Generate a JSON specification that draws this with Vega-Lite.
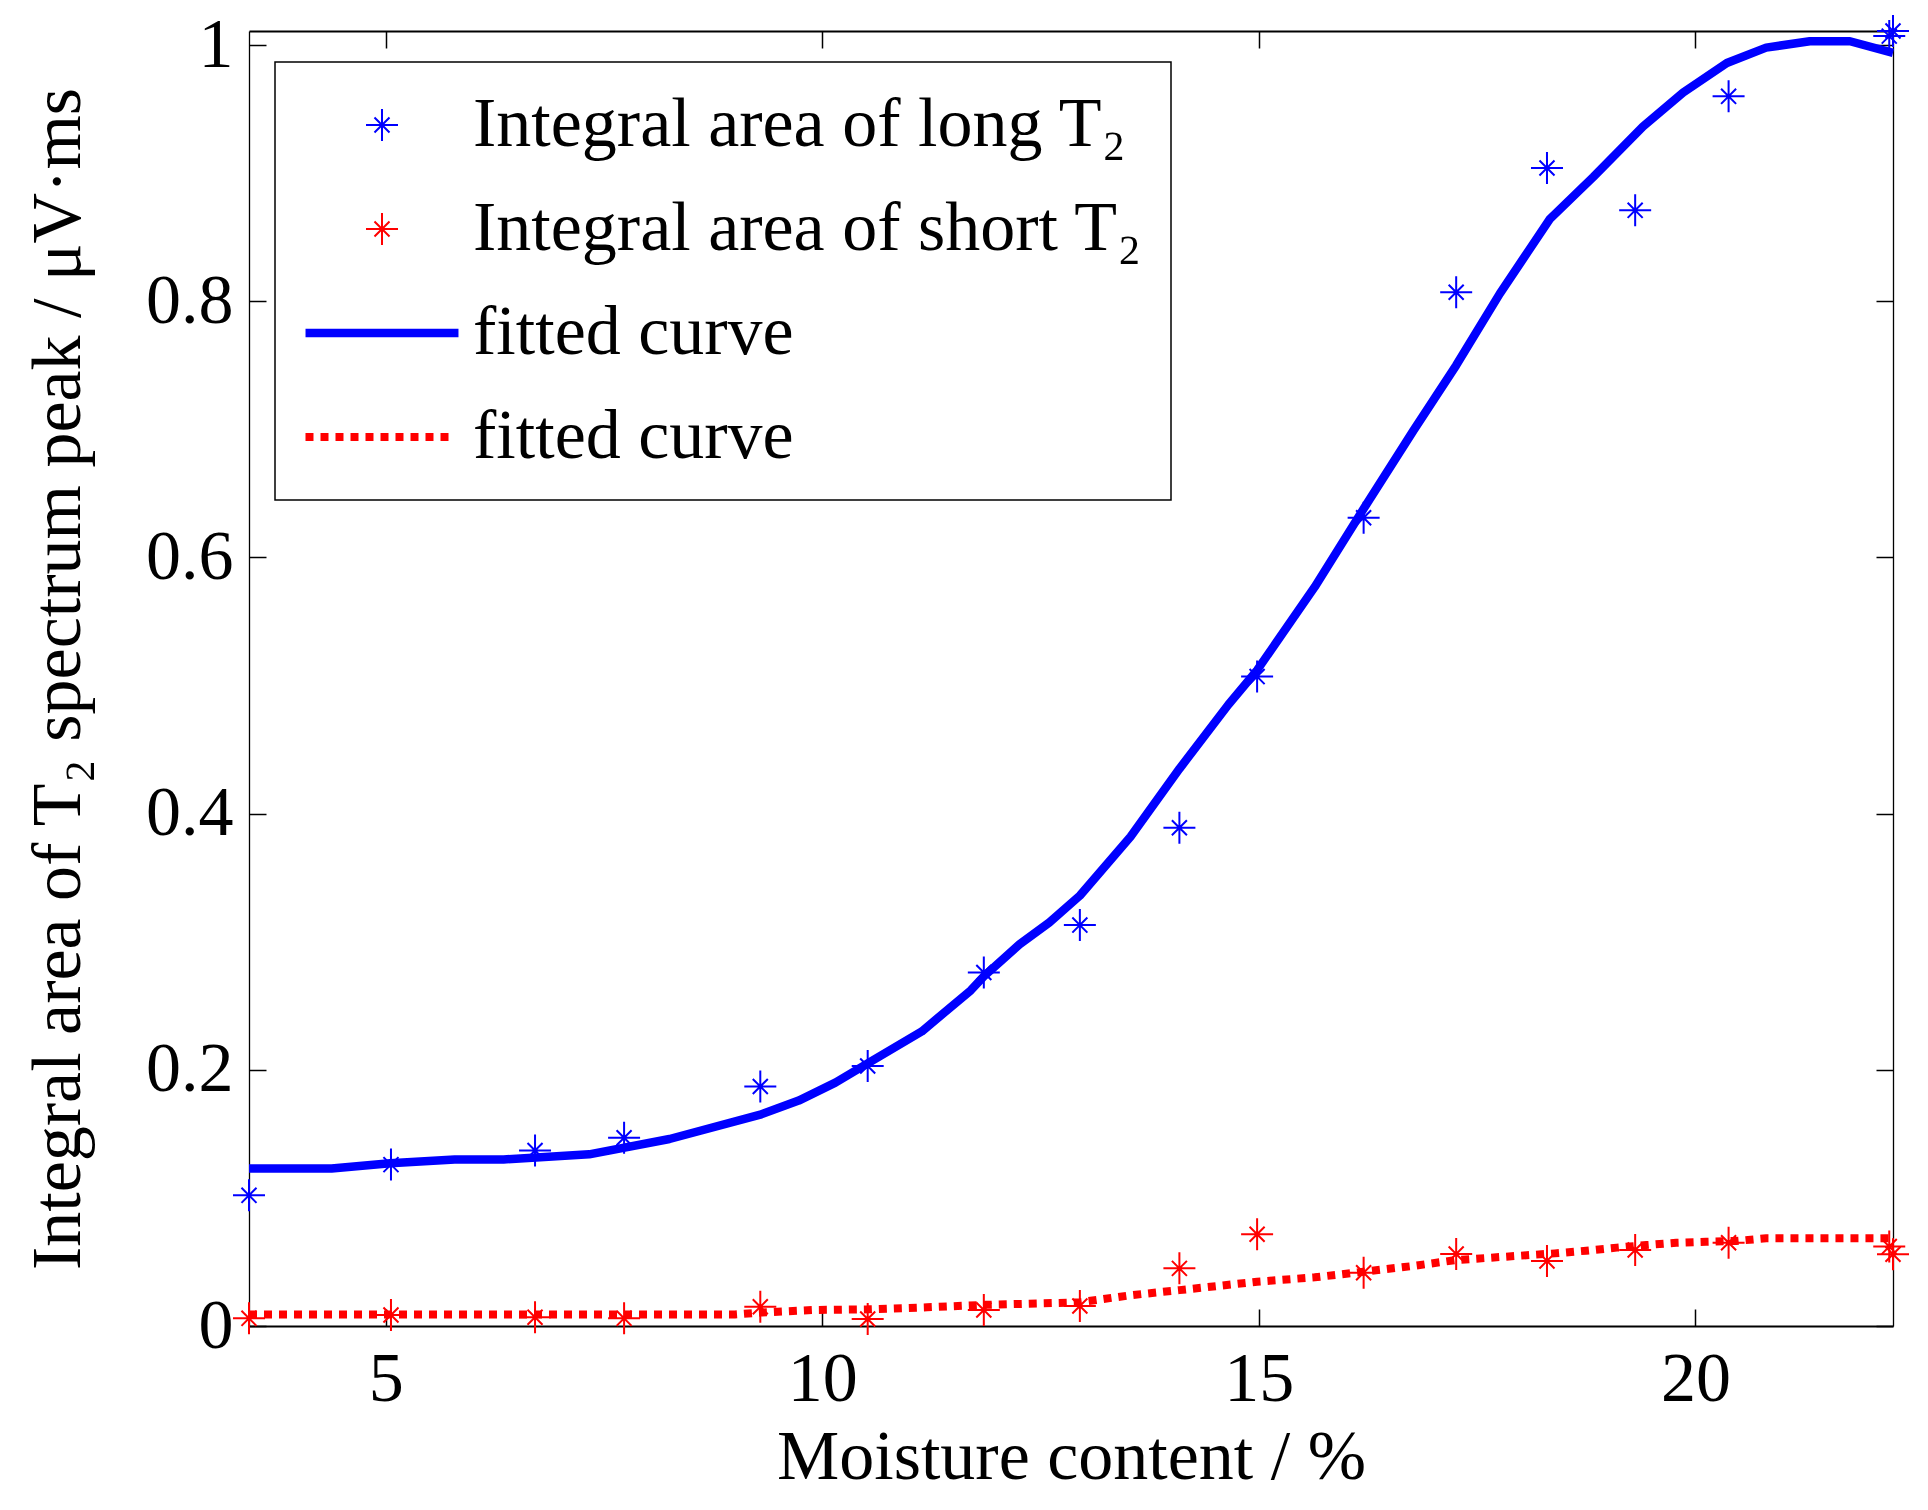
{
  "$schema": "https://vega.github.io/schema/vega-lite/v6.json",
  "width": 1644,
  "height": 1295,
  "autosize": {"type": "none"},
  "padding": {"left": 249, "top": 31, "right": 35, "bottom": 184},
  "background": "white",
  "data": {
    "values": [
      {"series": "long", "x": 3.434, "y": 0.102},
      {"series": "long", "x": 5.06, "y": 0.126},
      {"series": "long", "x": 6.71, "y": 0.137},
      {"series": "long", "x": 7.73, "y": 0.147},
      {"series": "long", "x": 9.29, "y": 0.187},
      {"series": "long", "x": 10.52, "y": 0.203},
      {"series": "long", "x": 11.85, "y": 0.276},
      {"series": "long", "x": 12.95, "y": 0.313},
      {"series": "long", "x": 14.09, "y": 0.389},
      {"series": "long", "x": 14.98, "y": 0.507},
      {"series": "long", "x": 16.2, "y": 0.631},
      {"series": "long", "x": 17.26, "y": 0.807},
      {"series": "long", "x": 18.3, "y": 0.904},
      {"series": "long", "x": 19.31, "y": 0.871},
      {"series": "long", "x": 20.38, "y": 0.96},
      {"series": "long", "x": 22.22, "y": 1.007},
      {"series": "long", "x": 22.263, "y": 1.011},
      {"series": "short", "x": 3.434, "y": 0.006},
      {"series": "short", "x": 5.06, "y": 0.0086},
      {"series": "short", "x": 6.71, "y": 0.0068},
      {"series": "short", "x": 7.73, "y": 0.006},
      {"series": "short", "x": 9.29, "y": 0.015},
      {"series": "short", "x": 10.52, "y": 0.0055},
      {"series": "short", "x": 11.85, "y": 0.0125},
      {"series": "short", "x": 12.95, "y": 0.0156},
      {"series": "short", "x": 14.09, "y": 0.045},
      {"series": "short", "x": 14.98, "y": 0.0716},
      {"series": "short", "x": 16.2, "y": 0.0416},
      {"series": "short", "x": 17.26, "y": 0.0562},
      {"series": "short", "x": 18.3, "y": 0.0508},
      {"series": "short", "x": 19.31, "y": 0.0593},
      {"series": "short", "x": 20.38, "y": 0.065},
      {"series": "short", "x": 22.22, "y": 0.062},
      {"series": "short", "x": 22.263, "y": 0.056},
      {"series": "fitL", "x": 3.434, "y": 0.123},
      {"series": "fitL", "x": 4.38, "y": 0.123},
      {"series": "fitL", "x": 5.05, "y": 0.127},
      {"series": "fitL", "x": 5.79, "y": 0.13},
      {"series": "fitL", "x": 6.35, "y": 0.13},
      {"series": "fitL", "x": 7.33, "y": 0.134},
      {"series": "fitL", "x": 8.25, "y": 0.146},
      {"series": "fitL", "x": 9.29, "y": 0.165},
      {"series": "fitL", "x": 9.73, "y": 0.176},
      {"series": "fitL", "x": 10.15, "y": 0.19},
      {"series": "fitL", "x": 10.52, "y": 0.205},
      {"series": "fitL", "x": 11.14, "y": 0.23},
      {"series": "fitL", "x": 11.7, "y": 0.262},
      {"series": "fitL", "x": 11.85, "y": 0.273},
      {"series": "fitL", "x": 12.26, "y": 0.298},
      {"series": "fitL", "x": 12.6, "y": 0.315},
      {"series": "fitL", "x": 12.95, "y": 0.336},
      {"series": "fitL", "x": 13.53, "y": 0.382},
      {"series": "fitL", "x": 14.09, "y": 0.435},
      {"series": "fitL", "x": 14.65, "y": 0.485},
      {"series": "fitL", "x": 14.98, "y": 0.512},
      {"series": "fitL", "x": 15.64, "y": 0.577},
      {"series": "fitL", "x": 16.2, "y": 0.638},
      {"series": "fitL", "x": 16.77, "y": 0.699},
      {"series": "fitL", "x": 17.26, "y": 0.75},
      {"series": "fitL", "x": 17.76, "y": 0.806},
      {"series": "fitL", "x": 18.33, "y": 0.864},
      {"series": "fitL", "x": 18.83, "y": 0.897},
      {"series": "fitL", "x": 19.4, "y": 0.9365},
      {"series": "fitL", "x": 19.86, "y": 0.963},
      {"series": "fitL", "x": 20.36, "y": 0.986},
      {"series": "fitL", "x": 20.81, "y": 0.998},
      {"series": "fitL", "x": 21.31, "y": 1.003},
      {"series": "fitL", "x": 21.77, "y": 1.003},
      {"series": "fitL", "x": 22.263, "y": 0.994},
      {"series": "fitS", "x": 3.434, "y": 0.009},
      {"series": "fitS", "x": 5.06, "y": 0.009},
      {"series": "fitS", "x": 7.73, "y": 0.009},
      {"series": "fitS", "x": 9.0, "y": 0.009},
      {"series": "fitS", "x": 9.29, "y": 0.0105},
      {"series": "fitS", "x": 9.9, "y": 0.0125},
      {"series": "fitS", "x": 10.52, "y": 0.013},
      {"series": "fitS", "x": 11.2, "y": 0.0146},
      {"series": "fitS", "x": 11.87, "y": 0.0165},
      {"series": "fitS", "x": 12.95, "y": 0.0185},
      {"series": "fitS", "x": 13.53, "y": 0.024},
      {"series": "fitS", "x": 14.09, "y": 0.028},
      {"series": "fitS", "x": 14.98, "y": 0.0346},
      {"series": "fitS", "x": 15.64, "y": 0.038},
      {"series": "fitS", "x": 16.2, "y": 0.0424},
      {"series": "fitS", "x": 16.77, "y": 0.0469},
      {"series": "fitS", "x": 17.26, "y": 0.0515},
      {"series": "fitS", "x": 17.8, "y": 0.054},
      {"series": "fitS", "x": 18.39, "y": 0.0567},
      {"series": "fitS", "x": 18.75, "y": 0.0588},
      {"series": "fitS", "x": 19.1, "y": 0.0612},
      {"series": "fitS", "x": 19.44, "y": 0.0632},
      {"series": "fitS", "x": 19.78, "y": 0.065},
      {"series": "fitS", "x": 20.12, "y": 0.0658},
      {"series": "fitS", "x": 20.47, "y": 0.0664},
      {"series": "fitS", "x": 20.81, "y": 0.0685},
      {"series": "fitS", "x": 22.263, "y": 0.0685}
    ]
  },
  "layer": [
    {
      "encoding": {
        "x": {
          "field": "x",
          "type": "quantitative",
          "scale": {"domain": [3.434, 22.263], "nice": false, "zero": false},
          "axis": {
            "orient": "bottom",
            "title": "Moisture content / %",
            "values": [5, 10, 15, 20],
            "tickSize": -17,
            "labelPadding": 36,
            "titlePadding": 9,
            "domainWidth": 2
          }
        },
        "y": {
          "field": "y",
          "type": "quantitative",
          "scale": {"domain": [0, 1.011], "nice": false},
          "axis": {
            "orient": "left",
            "title": "Integral area of T₂ spectrum peak / μV·ms",
            "values": [0, 0.2, 0.4, 0.6, 0.8, 1],
            "format": ".1~f",
            "tickSize": -17,
            "labelPadding": 33,
            "titlePadding": 51,
            "domainWidth": 1.3
          }
        }
      },
      "layer": [
        {
          "transform": [{"filter": "datum.series == 'fitL'"}],
          "mark": {"type": "line", "color": "#0000ff", "strokeWidth": 8.5, "strokeJoin": "round"}
        },
        {
          "transform": [{"filter": "datum.series == 'fitS'"}],
          "mark": {"type": "line", "color": "#ff0000", "strokeWidth": 8, "strokeDash": [8, 7], "strokeCap": "butt"}
        },
        {
          "transform": [{"filter": "datum.series == 'long' || datum.series == 'short'"}],
          "mark": {"type": "point", "filled": false, "size": 1024, "strokeWidth": 2, "opacity": 1},
          "encoding": {
            "color": {
              "field": "series",
              "type": "nominal",
              "scale": {"domain": ["long", "short", "fitL", "fitS"], "range": ["#0000ff", "#ff0000", "#0000ff", "#ff0000"]},
              "legend": {
                "orient": "none",
                "legendX": 26,
                "legendY": 31,
                "direction": "vertical",
                "title": null,
                "padding": 28,
                "rowPadding": 34,
                "symbolOffset": 44,
                "labelOffset": 56,
                "symbolSize": 1024,
                "symbolStrokeWidth": 2,
                "labelLimit": 1200,
                "labelExpr": "datum.value == 'long' ? 'Integral area of long T₂' : datum.value == 'short' ? 'Integral area of short T₂' : 'fitted curve'"
              }
            },
            "shape": {
              "field": "series",
              "type": "nominal",
              "scale": {
                "domain": ["long", "short", "fitL", "fitS"],
                "range": [
                  "M0,-1V1M-1,0H1M-0.47,-0.47L0.47,0.47M-0.47,0.47L0.47,-0.47",
                  "M0,-1V1M-1,0H1M-0.47,-0.47L0.47,0.47M-0.47,0.47L0.47,-0.47",
                  "M-4.78,-0.203H4.78M-4.78,-0.102H4.78M-4.78,0H4.78M-4.78,0.102H4.78M-4.78,0.203H4.78",
                  "M-4.719,-0.25V0.25M-4.594,-0.25V0.25M-4.469,-0.25V0.25M-4.344,-0.25V0.25M-3.781,-0.25V0.25M-3.656,-0.25V0.25M-3.531,-0.25V0.25M-3.406,-0.25V0.25M-2.844,-0.25V0.25M-2.719,-0.25V0.25M-2.594,-0.25V0.25M-2.469,-0.25V0.25M-1.906,-0.25V0.25M-1.781,-0.25V0.25M-1.656,-0.25V0.25M-1.531,-0.25V0.25M-0.969,-0.25V0.25M-0.844,-0.25V0.25M-0.719,-0.25V0.25M-0.594,-0.25V0.25M-0.031,-0.25V0.25M0.094,-0.25V0.25M0.219,-0.25V0.25M0.344,-0.25V0.25M0.906,-0.25V0.25M1.031,-0.25V0.25M1.156,-0.25V0.25M1.281,-0.25V0.25M1.844,-0.25V0.25M1.969,-0.25V0.25M2.094,-0.25V0.25M2.219,-0.25V0.25M2.781,-0.25V0.25M2.906,-0.25V0.25M3.031,-0.25V0.25M3.156,-0.25V0.25M3.719,-0.25V0.25M3.844,-0.25V0.25M3.969,-0.25V0.25M4.094,-0.25V0.25"
                ]
              },
              "legend": {
                "orient": "none",
                "legendX": 26,
                "legendY": 31,
                "direction": "vertical",
                "title": null,
                "padding": 28,
                "rowPadding": 34,
                "symbolOffset": 44,
                "labelOffset": 56,
                "symbolSize": 1024,
                "symbolStrokeWidth": 2,
                "labelLimit": 1200,
                "labelExpr": "datum.value == 'long' ? 'Integral area of long T₂' : datum.value == 'short' ? 'Integral area of short T₂' : 'fitted curve'"
              }
            }
          }
        }
      ]
    },
    {
      "mark": {"type": "point", "opacity": 0},
      "encoding": {
        "x": {
          "field": "x",
          "type": "quantitative",
          "axis": {"orient": "top", "labels": false, "title": null, "values": [5, 10, 15, 20], "tickSize": -17, "domainWidth": 2}
        },
        "y": {
          "field": "y",
          "type": "quantitative",
          "axis": {"orient": "right", "labels": false, "title": null, "values": [0, 0.2, 0.4, 0.6, 0.8, 1], "tickSize": -17, "domainWidth": 1.3}
        }
      }
    }
  ],
  "resolve": {"axis": {"x": "independent", "y": "independent"}},
  "config": {
    "view": {"stroke": null},
    "font": "Liberation Serif",
    "axis": {
      "grid": false,
      "labelFont": "Liberation Serif, DejaVu Serif",
      "labelFontSize": 70,
      "labelColor": "black",
      "labelFlush": false,
      "labelOverlap": false,
      "titleFont": "Liberation Serif, DejaVu Serif",
      "titleFontSize": 70,
      "titleFontWeight": "normal",
      "titleColor": "black",
      "domainColor": "black",
      "tickColor": "black",
      "tickWidth": 1.5
    },
    "legend": {
      "labelFont": "Liberation Serif, DejaVu Serif",
      "labelFontSize": 70,
      "labelColor": "black",
      "strokeColor": "black",
      "strokeWidth": 1.5,
      "fillColor": "white",
      "symbolStrokeWidth": 2
    }
  }
}
